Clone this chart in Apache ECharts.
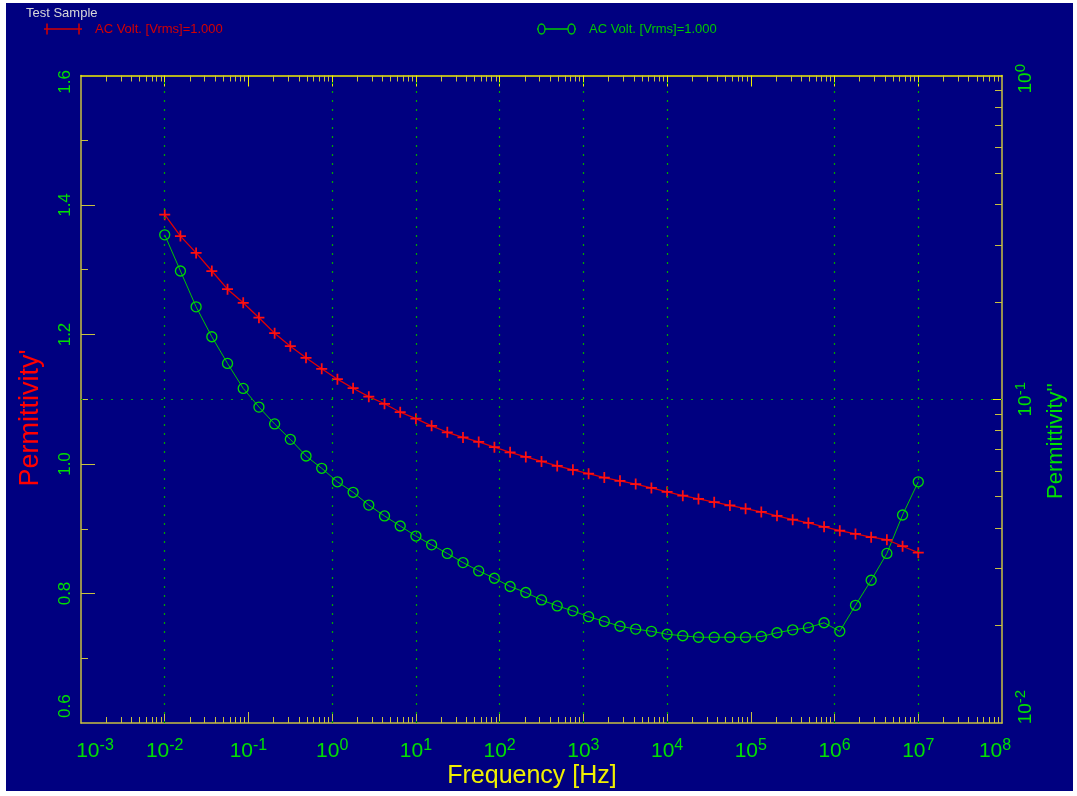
<!DOCTYPE html>
<html>
<head>
<meta charset="utf-8">
<script src="https://cdn.jsdelivr.net/npm/echarts@6/dist/echarts.min.js"></script>
<style>
html,body{margin:0;padding:0;background:#ffffff;width:1077px;height:796px;overflow:hidden}
#chart{position:absolute;left:6px;top:3px;width:1067px;height:788px;background:#000080}
</style>
</head>
<body>
<div id="chart"></div>
<script>
// ---- data ----
const frequency = [
  0.01, 0.0154, 0.02371, 0.03652, 0.05623, 0.0866, 0.1334, 0.2054, 0.3162, 0.487,
  0.7499, 1.155, 1.778, 2.738, 4.217, 6.494, 10, 15.4, 23.71, 36.52,
  56.23, 86.6, 133.4, 205.4, 316.2, 487.0, 749.9, 1155, 1778, 2738,
  4217, 6494, 1.0e4, 1.54e4, 2.371e4, 3.652e4, 5.623e4, 8.66e4, 1.334e5, 2.054e5,
  3.162e5, 4.87e5, 7.499e5, 1.155e6, 1.778e6, 2.738e6, 4.217e6, 6.494e6, 1.0e7
];
const permittivityReal = [
  1.385, 1.352, 1.326, 1.298, 1.270, 1.249, 1.226, 1.202, 1.182, 1.164,
  1.147, 1.131, 1.117, 1.104, 1.093, 1.080, 1.070, 1.059, 1.049, 1.041,
  1.034, 1.026, 1.018, 1.011, 1.004, 0.997, 0.991, 0.985, 0.979, 0.974,
  0.969, 0.963, 0.957, 0.951, 0.946, 0.941, 0.936, 0.931, 0.926, 0.920,
  0.914, 0.909, 0.903, 0.897, 0.892, 0.887, 0.883, 0.873, 0.863
];
const permittivityImag = [
  0.322, 0.249, 0.193, 0.156, 0.129, 0.108, 0.0946, 0.0839, 0.0752, 0.0668,
  0.0612, 0.0556, 0.0516, 0.0471, 0.0436, 0.0406, 0.0378, 0.0355, 0.0334, 0.0313,
  0.0295, 0.0280, 0.0264, 0.0253, 0.0240, 0.0230, 0.0222, 0.0213, 0.0206, 0.0199,
  0.0195, 0.0192, 0.0188, 0.0186, 0.0184, 0.0184, 0.0184, 0.0184, 0.0185, 0.0190,
  0.0194, 0.0197, 0.0204, 0.0192, 0.0231, 0.0276, 0.0334, 0.0439, 0.0556
];
const xDecadeExps = [-3, -2, -1, 0, 1, 2, 3, 4, 5, 6, 7, 8];
const xGridExps = [-2, 0, 1, 2, 3, 4, 6, 7];
const leftTickValues = [0.6, 0.8, 1.0, 1.2, 1.4, 1.6];
const leftMinorTicks = [0.7, 0.9, 1.1, 1.3, 1.5];
const rightDecadeExps = [-2, -1, 0];
const minorMultipliers = [2, 3, 4, 5, 6, 7, 8, 9];
const legendText = 'AC Volt. [Vrms]=1.000';

// ---- styling / axis decoration ----
const FONT = '"Liberation Sans", Arial, sans-serif';
const axisYellow = '#c8c040';
const topYellow = '#f0f000';
const tickGreen = '#00e000';
const xMin = 1e-3, xMax = 1e8, yLMin = 0.6, yLMax = 1.6, yRMin = 0.01, yRMax = 1;

const xMajor = xDecadeExps.map(e => Math.pow(10, e));
const xMinor = [];
xDecadeExps.slice(0, -1).forEach(e => minorMultipliers.forEach(m => xMinor.push(m * Math.pow(10, e))));
// end labels are pulled inside the frame, as in the original
const xLabelPos = xMajor.map((v, i) => i === 0 ? v * Math.pow(10, 0.167) : (i === xMajor.length - 1 ? v / Math.pow(10, 0.083) : v));
const leftLabelPos = leftTickValues.map((v, i) => i === 0 ? v + 0.026 : (i === leftTickValues.length - 1 ? v - 0.01 : v));
const rightMajor = rightDecadeExps.map(e => Math.pow(10, e));
const rightMinor = [];
rightDecadeExps.slice(0, -1).forEach(e => minorMultipliers.forEach(m => rightMinor.push(m * Math.pow(10, e))));
const rightLabelPos = rightMajor.map((v, i) => i === 0 ? v * Math.pow(10, 0.049) : (i === rightMajor.length - 1 ? v / Math.pow(10, 0.01) : v));

const powFormatter = v => '{b|10}{s|' + Math.round(Math.log10(v)) + '}';
const richX = {
  b: {fontSize: 21, fontFamily: FONT, color: tickGreen, lineHeight: 24, verticalAlign: 'bottom'},
  s: {fontSize: 16, fontFamily: FONT, color: tickGreen, lineHeight: 14, verticalAlign: 'top'}
};
const richY = {
  b: {fontSize: 19, fontFamily: FONT, color: tickGreen, lineHeight: 22, verticalAlign: 'bottom'},
  s: {fontSize: 15, fontFamily: FONT, color: tickGreen, lineHeight: 13, verticalAlign: 'top'}
};
const plusPath = 'path://M4.2,0H5.8V4.2H10V5.8H5.8V10H4.2V5.8H0V4.2H4.2Z';

const hidden = {show: false};
function tickOnlyX(position, values, len, color) {
  return {type: 'log', logBase: 10, min: xMin, max: xMax, position: position,
    axisLine: {show: false, onZero: false},
    axisTick: {show: true, inside: true, length: len, customValues: values, lineStyle: {color: color, width: 1}},
    axisLabel: hidden, splitLine: hidden, minorTick: hidden, minorSplitLine: hidden};
}

const option = {
  animation: false,
  backgroundColor: '#000080',
  grid: {left: 75, top: 72.5, right: 71, bottom: 68, containLabel: false},
  xAxis: [
    {type: 'log', logBase: 10, min: xMin, max: xMax, position: 'bottom',
     axisLine: {show: true, onZero: false, lineStyle: {color: axisYellow, width: 1.5}},
     axisTick: {show: true, inside: true, length: 11, customValues: xMajor.slice(1, -1), lineStyle: {color: axisYellow}},
     axisLabel: {show: true, customValues: xLabelPos, margin: 15, formatter: powFormatter, rich: richX},
     splitLine: hidden, minorTick: hidden},
    tickOnlyX('bottom', xMinor, 6, axisYellow),
    {type: 'log', logBase: 10, min: xMin, max: xMax, position: 'top',
     axisLine: {show: true, onZero: false, lineStyle: {color: topYellow, width: 1.5}},
     axisTick: {show: true, inside: true, length: 6, customValues: xMinor, lineStyle: {color: axisYellow}},
     axisLabel: hidden, splitLine: hidden, minorTick: hidden},
    tickOnlyX('top', xMajor.slice(1, -1), 11, topYellow)
  ],
  yAxis: [
    {type: 'value', position: 'left', min: yLMin, max: yLMax,
     axisLine: {show: true, onZero: false, lineStyle: {color: axisYellow, width: 1.5}},
     axisTick: {show: true, inside: true, length: 7, customValues: leftMinorTicks, lineStyle: {color: axisYellow}},
     axisLabel: {show: true, customValues: leftLabelPos, rotate: 90, margin: 7, color: tickGreen,
                 fontSize: 17, fontFamily: FONT, formatter: v => v.toFixed(1)},
     splitLine: hidden},
    {type: 'log', logBase: 10, position: 'right', min: yRMin, max: yRMax,
     axisLine: {show: true, onZero: false, lineStyle: {color: axisYellow, width: 1.5}},
     axisTick: {show: true, inside: true, length: 7, customValues: rightMinor, lineStyle: {color: axisYellow}},
     axisLabel: {show: true, customValues: rightLabelPos, rotate: 90, margin: 11, formatter: powFormatter, rich: richY},
     splitLine: hidden, minorTick: hidden},
    {type: 'value', position: 'left', min: yLMin, max: yLMax,
     axisLine: {show: false, onZero: false},
     axisTick: {show: true, inside: true, length: 14, customValues: leftTickValues.slice(1, -1), lineStyle: {color: axisYellow}},
     axisLabel: hidden, splitLine: hidden},
    {type: 'log', logBase: 10, position: 'right', min: yRMin, max: yRMax,
     axisLine: {show: false, onZero: false},
     axisTick: {show: true, inside: true, length: 11, customValues: rightMajor.slice(1, -1), lineStyle: {color: topYellow}},
     axisLabel: hidden, splitLine: hidden, minorTick: hidden}
  ],
  series: [
    {name: "Permittivity'", type: 'line', xAxisIndex: 0, yAxisIndex: 0,
     data: frequency.map((f, i) => [f, permittivityReal[i]]),
     symbol: plusPath, symbolSize: 11, showAllSymbol: true,
     lineStyle: {color: '#e00000', width: 1.3}, itemStyle: {color: '#ff1010'}, z: 4,
     markLine: {silent: true, symbol: 'none', label: hidden, animation: false,
       lineStyle: {color: '#00a800', width: 1.2, type: [2, 7]},
       data: xGridExps.map(e => ({xAxis: Math.pow(10, e)}))}},
    {name: "Permittivity''", type: 'line', xAxisIndex: 0, yAxisIndex: 1,
     data: frequency.map((f, i) => [f, permittivityImag[i]]),
     symbol: 'circle', symbolSize: 10, showAllSymbol: true,
     lineStyle: {color: '#00c800', width: 1}, z: 3,
     itemStyle: {color: 'rgba(0,0,0,0)', borderColor: '#00dc00', borderWidth: 1.3},
     markLine: {silent: true, symbol: 'none', label: hidden, animation: false,
       lineStyle: {color: '#00a800', width: 1.2, type: [2, 8]},
       data: [{yAxis: 0.1}]}}
  ],
  graphic: [
    {type: 'text', x: 20, y: 10, style: {text: 'Test Sample', fill: '#d8d8d8', font: '13px ' + FONT, verticalAlign: 'middle'}},
    {type: 'line', shape: {x1: 38, y1: 26, x2: 76, y2: 26}, style: {stroke: '#d40000', lineWidth: 1.3}},
    {type: 'line', shape: {x1: 41, y1: 20.5, x2: 41, y2: 31.5}, style: {stroke: '#d40000', lineWidth: 1.5}},
    {type: 'line', shape: {x1: 73, y1: 20.5, x2: 73, y2: 31.5}, style: {stroke: '#d40000', lineWidth: 1.5}},
    {type: 'text', x: 89, y: 26, style: {text: legendText, fill: '#d40000', font: '13px ' + FONT, verticalAlign: 'middle'}},
    {type: 'line', shape: {x1: 531, y1: 26, x2: 570, y2: 26}, style: {stroke: '#00c800', lineWidth: 1.3}},
    {type: 'ellipse', shape: {cx: 535.5, cy: 26, rx: 3.5, ry: 5}, style: {stroke: '#00c800', fill: '#000080', lineWidth: 1.3}},
    {type: 'ellipse', shape: {cx: 565.5, cy: 26, rx: 3.5, ry: 5}, style: {stroke: '#00c800', fill: '#000080', lineWidth: 1.3}},
    {type: 'text', x: 583, y: 26, style: {text: legendText, fill: '#00c800', font: '13px ' + FONT, verticalAlign: 'middle'}},
    {type: 'text', x: 25, y: 415, rotation: Math.PI / 2, style: {text: "Permittivity'", fill: '#ff0000', font: '27px ' + FONT, align: 'center', verticalAlign: 'middle'}},
    {type: 'text', x: 1050, y: 438, rotation: Math.PI / 2, style: {text: "Permittivity''", fill: '#00e000', font: '22px ' + FONT, align: 'center', verticalAlign: 'middle'}},
    {type: 'text', x: 526, y: 773, style: {text: 'Frequency [Hz]', fill: '#f0f000', font: '25px ' + FONT, align: 'center', verticalAlign: 'middle'}}
  ]
};

const chart = echarts.init(document.getElementById('chart'), null, {renderer: 'canvas'});
chart.setOption(option);
</script>
</body>
</html>
